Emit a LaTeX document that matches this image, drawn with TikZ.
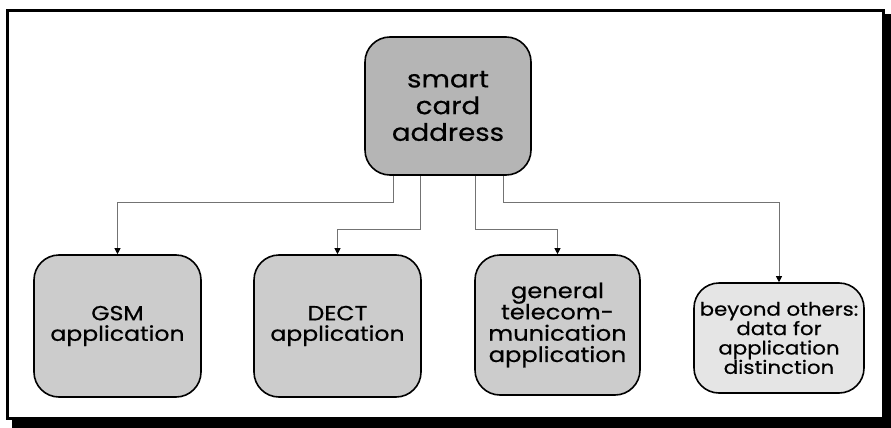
\documentclass[tikz,border=0pt]{standalone}
\usepackage{fontspec}
\setmainfont{Poppins}[FakeStretch=1.15, FakeBold=0.6]
\usetikzlibrary{arrows.meta}
\definecolor{topfill}{gray}{0.71}
\definecolor{appfill}{gray}{0.80}
\definecolor{lightfill}{gray}{0.90}
\definecolor{wire}{gray}{0.45}
\tikzset{
  card/.style={draw=black, line width=1.6pt, rounded corners=25pt,
    align=center, inner sep=0pt, text=black},
  link/.style={draw=wire, line width=1pt,
    -{Triangle[width=6pt,length=6pt,color=black]}},
}
\begin{document}
\begin{tikzpicture}[x=1pt,y=-1pt]
\useasboundingbox (0,0) rectangle (891,428);
% frame with drop shadow
\fill[black] (12,14) rectangle (891,428);
\draw[black, fill=white, line width=3pt] (7.5,10.5) rectangle (883.5,418.5);

\node[card, fill=topfill, minimum width=166pt, minimum height=138pt,
  font=\fontsize{24}{26.7}\selectfont] (top) at (448,106) {smart\\card\\address};

\node[card, fill=appfill, minimum width=167pt, minimum height=142pt,
  font=\fontsize{20.5}{20.5}\selectfont] (gsm) at (117.5,326) {GSM\\application};
\node[card, fill=appfill, minimum width=167pt, minimum height=142pt,
  font=\fontsize{20.5}{20.5}\selectfont] (dect) at (337.5,326) {DECT\\application};
\node[card, fill=appfill, minimum width=165pt, minimum height=140pt,
  font=\fontsize{21}{21.3}\selectfont] (gen) at (557.5,325)
  {general\\telecom-\\munication\\application};
\node[card, fill=lightfill, minimum width=170pt, minimum height=110pt,
  font=\fontsize{18.5}{19.4}\selectfont] (other) at (779,338)
  {beyond others:\\data for\\application\\distinction};

\draw[link] ([xshift=-55pt]top.south) -- ++(0,27) -| (gsm.north);
\draw[link] ([xshift=-28pt]top.south) -- ++(0,54) -| (dect.north);
\draw[link] ([xshift=27pt]top.south) -- ++(0,54) -| (gen.north);
\draw[link] ([xshift=55pt]top.south) -- ++(0,27) -| (other.north);
\end{tikzpicture}
\end{document}
